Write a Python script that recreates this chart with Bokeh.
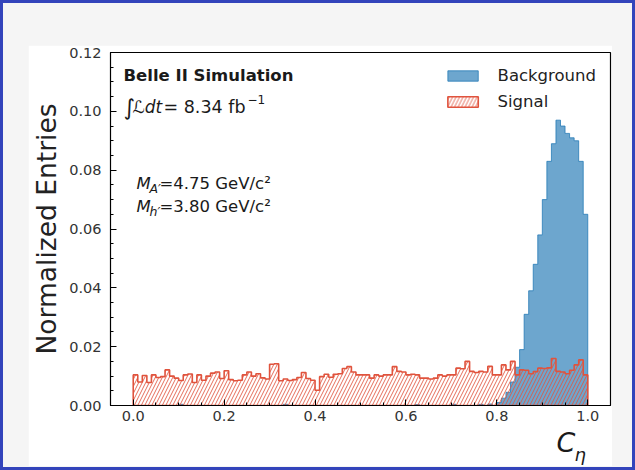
import numpy as np
from bokeh.plotting import figure
from bokeh.models import Label, FixedTicker, Range1d, Legend, LegendItem, Title
from bokeh.layouts import column
from bokeh.embed import file_html
from bokeh.resources import INLINE

# ---------------- data ----------------
bin_lo = 0.0
bin_hi = 1.0
n_bins = 100

signal = [
    0.0104, 0.0080, 0.0102, 0.0078, 0.0104, 0.0095, 0.0098, 0.0121, 0.0100, 0.0093,
    0.0085, 0.0104, 0.0107, 0.0078, 0.0104, 0.0086, 0.0100, 0.0110, 0.0114, 0.0092,
    0.0118, 0.0088, 0.0084, 0.0086, 0.0104, 0.0114, 0.0100, 0.0108, 0.0094, 0.0090,
    0.0140, 0.0142, 0.0084, 0.0090, 0.0085, 0.0088, 0.0095, 0.0112, 0.0092, 0.0086,
    0.0052, 0.0098, 0.0106, 0.0096, 0.0106, 0.0108, 0.0126, 0.0132, 0.0114, 0.0104,
    0.0104, 0.0104, 0.0093, 0.0104, 0.0100, 0.0104, 0.0104, 0.0132, 0.0116, 0.0114,
    0.0104, 0.0106, 0.0104, 0.0093, 0.0093, 0.0090, 0.0093, 0.0104, 0.0100, 0.0104,
    0.0104, 0.0127, 0.0125, 0.0150, 0.0116, 0.0112, 0.0116, 0.0114, 0.0133, 0.0104,
    0.0104, 0.0138, 0.0121, 0.0150, 0.0104, 0.0121, 0.0120, 0.0108, 0.0115, 0.0127,
    0.0126, 0.0128, 0.0160, 0.0116, 0.0114, 0.0108, 0.0120, 0.0138, 0.0155, 0.0104,
]

background = [
    0.0, 0.0, 0.0, 0.0, 0.0, 0.0, 0.0, 0.0, 0.0, 0.0,
    0.0004, 0.0, 0.0, 0.0, 0.0, 0.0, 0.0, 0.0, 0.0, 0.0,
    0.0, 0.0, 0.0, 0.0, 0.0, 0.0, 0.0, 0.0, 0.0, 0.0,
    0.0, 0.0, 0.0, 0.0004, 0.0, 0.0, 0.0, 0.0, 0.0, 0.0,
    0.0, 0.0, 0.0, 0.0, 0.0, 0.0, 0.0, 0.0, 0.0, 0.0,
    0.0, 0.0, 0.0, 0.0, 0.0, 0.0, 0.0, 0.0, 0.0, 0.0,
    0.0, 0.0, 0.0003, 0.0, 0.0, 0.0, 0.0, 0.0, 0.0, 0.0,
    0.0004, 0.0, 0.0, 0.0, 0.0, 0.0, 0.0004, 0.0, 0.0005, 0.0,
    0.0010, 0.0025, 0.0045, 0.0080, 0.0130, 0.0190, 0.0310, 0.0390, 0.0480, 0.0580,
    0.0700, 0.0830, 0.0890, 0.0970, 0.0950, 0.0925, 0.0910, 0.0900, 0.0830, 0.0650,
]

x_ticks = [0.0, 0.2, 0.4, 0.6, 0.8, 1.0]
x_tick_labels = ["0.0", "0.2", "0.4", "0.6", "0.8", "1.0"]
y_ticks = [0.00, 0.02, 0.04, 0.06, 0.08, 0.10, 0.12]
y_tick_labels = ["0.00", "0.02", "0.04", "0.06", "0.08", "0.10", "0.12"]

series_names = ["Background", "Signal"]
ylabel = "Normalized Entries"
xlabel_main = "C"
xlabel_sub = "\u03b7"
exp_label = "Belle II Simulation"
lumi_int = "\u222b"
lumi_var = "\u2112dt"
lumi_val = "= 8.34 fb"
lumi_exp = "\u22121"
mass_A_sym, mass_A_sub, mass_A = "M", "A\u2032", "=4.75 GeV/c\u00b2"
mass_h_sym, mass_h_sub, mass_h = "M", "h\u2032", "=3.80 GeV/c\u00b2"

# ---------------- geometry helpers ----------------
X0, X1 = -0.05, 1.05
Y0, Y1 = 0.0, 0.12
OX, OY = 28, 45  # figure position on page
FRAME_L, FRAME_R, FRAME_T, FRAME_B = 110, 610, 52, 405
FIG_W, FIG_H = 612 - OX, 421
ML = FRAME_L - OX
MR = OX + FIG_W - FRAME_R
MT = FRAME_T - OY
MB = OY + FIG_H - FRAME_B
fw = FRAME_R - FRAME_L
fh = FRAME_B - FRAME_T


def dx(px):
    return X0 + (px - FRAME_L) / fw * (X1 - X0)


def dy(py):
    return Y0 + (FRAME_B - py) / fh * (Y1 - Y0)


edges = np.linspace(bin_lo, bin_hi, n_bins + 1)


def step_outline(vals):
    xs = [edges[0]]
    ys = [0.0]
    for i, v in enumerate(vals):
        xs += [edges[i], edges[i + 1]]
        ys += [v, v]
    xs.append(edges[-1])
    ys.append(0.0)
    return xs, ys


FONT = "DejaVu Sans"
TXT = "#1a1a1a"
BLUE = "#1f77b4"
RED = "#e0533d"

p = figure(width=FIG_W, height=FIG_H, x_range=Range1d(X0, X1), y_range=Range1d(Y0, Y1),
           output_backend="svg", toolbar_location=None,
           min_border_left=ML, min_border_right=MR, min_border_top=MT, min_border_bottom=MB)
p.border_fill_color = "white"
p.background_fill_color = "white"
p.outline_line_color = "black"
p.outline_line_width = 1.2
p.grid.visible = False
p.margin = (OY - 3, 0, 0, OX - 3)

bx, by = step_outline(background)
bg = p.patch(bx, by, fill_color=BLUE, fill_alpha=0.65, line_color=BLUE, line_alpha=0.75, line_width=1)
sx, sy = step_outline(signal)
sg = p.patch(sx, sy, fill_alpha=0.0, line_color=RED, line_width=1.6,
             hatch_pattern="/", hatch_color=RED, hatch_alpha=0.85, hatch_weight=1.0, hatch_scale=7)

# axes
xminor = list(np.round(np.arange(0.0, 1.0001, 0.05), 2))
yminor = list(np.round(np.arange(0.0, 0.12001, 0.005), 3))
p.xaxis.ticker = FixedTicker(ticks=x_ticks, minor_ticks=xminor)
p.yaxis.ticker = FixedTicker(ticks=y_ticks, minor_ticks=yminor)
p.xaxis.major_label_overrides = {t: l for t, l in zip(x_ticks, x_tick_labels)}
p.yaxis.major_label_overrides = {t: l for t, l in zip(y_ticks, y_tick_labels)}
for ax in (p.xaxis[0], p.yaxis[0]):
    ax.major_tick_in = 6
    ax.major_tick_out = 0
    ax.minor_tick_in = 3
    ax.minor_tick_out = 0
    ax.axis_line_color = "black"
    ax.major_tick_line_color = "black"
    ax.minor_tick_line_color = "black"
    ax.major_label_text_font = FONT
    ax.major_label_text_font_size = "14.5px"
    ax.major_label_text_color = "#333333"
p.xaxis.major_label_standoff = 5
p.yaxis.major_label_standoff = 9
p.yaxis.axis_label = ylabel
p.yaxis.axis_label_text_font = FONT
p.yaxis.axis_label_text_font_size = "26.5px"
p.yaxis.axis_label_text_font_style = "normal"
p.yaxis.axis_label_text_color = "#222222"
p.yaxis.axis_label_standoff = 4

# x label: italic C and its subscript eta as below-titles
tC = Title(text=xlabel_main, align="left", offset=556 - FRAME_L, text_font=FONT,
           text_font_size="27px", text_font_style="italic", text_color=TXT, standoff=2)
p.add_layout(tC, "below")
tE = Title(text=xlabel_sub, align="left", offset=574 - FRAME_L, text_font=FONT,
           text_font_size="18px", text_font_style="italic", text_color=TXT,
           vertical_align="top", standoff=-30)
p.add_layout(tE, "below")

# legend
legend = Legend(items=[LegendItem(label=series_names[0], renderers=[bg]),
                       LegendItem(label=series_names[1], renderers=[sg])],
                location="top_right", margin=9, padding=5, spacing=7,
                glyph_width=38, glyph_height=13, label_standoff=16,
                label_text_font=FONT, label_text_font_size="16.5px", label_text_color="#222222",
                background_fill_alpha=0.0, border_line_alpha=0.0)
p.add_layout(legend)


def lab(px, py, text, size="16px", style="normal", align="left"):
    p.add_layout(Label(x=dx(px), y=dy(py), text=text, text_font=FONT, text_font_size=size,
                       text_font_style=style, text_color=TXT, text_baseline="middle",
                       text_align=align))


lab(123, 75, exp_label, "16.5px", "bold")
lab(123, 107, lumi_int, "22px")
lab(132, 106, lumi_var, "17px", "italic")
lab(163, 106, lumi_val, "17.5px")
lab(247, 99, lumi_exp, "12px")
lab(136, 183, mass_A_sym, "16.5px", "italic")
lab(149, 188, mass_A_sub, "12.5px", "italic")
lab(159, 183, mass_A, "16.5px")
lab(136, 206, mass_h_sym, "16.5px", "italic")
lab(149, 211, mass_h_sub, "12.5px", "italic")
lab(159, 206, mass_h, "16.5px")

layout = column(p, width=635, height=470,
                styles={"background-color": "#f5f5f5", "border": "3px solid #3344bb",
                        "box-sizing": "border-box"})

open("out.html", "w").write(file_html(layout, INLINE))
